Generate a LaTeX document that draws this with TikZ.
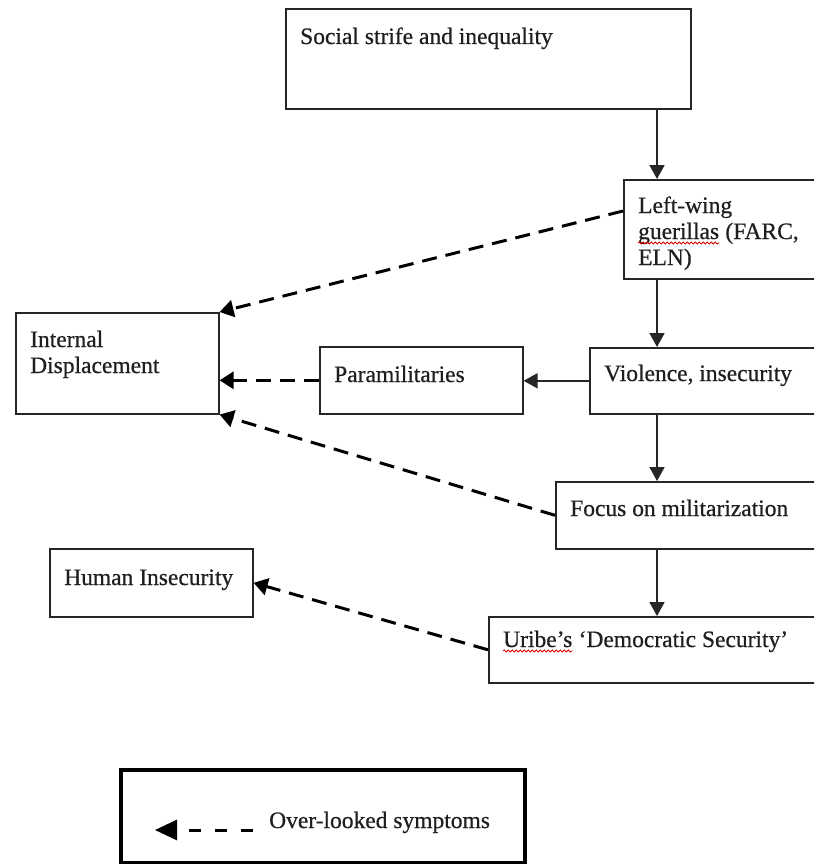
\documentclass[tikz,border=0pt]{standalone}
\usepackage{fontspec}
\setmainfont{Liberation Serif}[FakeBold=0.6]
\usetikzlibrary{arrows.meta,decorations.pathmorphing}
\tikzset{
  box/.style={draw=black!85, line width=1.6pt, rectangle, inner sep=0pt, anchor=north west},
  lbl/.style={anchor=base west, inner sep=0pt, font=\fontsize{23.5}{27}\selectfont, text=black!88},
  arr/.style={draw=black!85, line width=1.8pt, -{Triangle[length=14pt,width=15pt]}},
  darr/.style={draw=black, line width=3pt, dash pattern=on 15pt off 9pt, -{Triangle[length=14pt,width=17pt]}},
  legarr/.style={draw=black, line width=3pt, dash pattern=on 12pt off 14pt, -{Triangle[length=22pt,width=20pt]}},
  legendbox/.style={draw=black, line width=4pt, rectangle, inner sep=0pt, anchor=north west},
  squig/.style={draw=red!85!black, line width=0.8pt, decorate, decoration={snake, segment length=4pt, amplitude=1.1pt}}
}
\begin{document}
\begin{tikzpicture}[x=1pt,y=-1pt]
\useasboundingbox (0,0) rectangle (814,864);
\fill[white] (0,0) rectangle (814,864);
\begin{scope}
\clip (0,0) rectangle (814,864);
% boxes
\node[box, minimum width=405pt, minimum height=100pt] (social) at (285,8) {};
\node[box, minimum width=230pt, minimum height=99pt] (lw) at (623,179) {};
\node[box, minimum width=240pt, minimum height=66pt] (viol) at (589,347) {};
\node[box, minimum width=203pt, minimum height=67pt] (para) at (319,346) {};
\node[box, minimum width=203pt, minimum height=101pt] (int) at (15,312) {};
\node[box, minimum width=280pt, minimum height=67pt] (focus) at (555,481) {};
\node[box, minimum width=340pt, minimum height=66pt] (uribe) at (488,616) {};
\node[box, minimum width=203pt, minimum height=68pt] (hum) at (49,548) {};
\node[legendbox, minimum width=404pt, minimum height=93pt] (legend) at (119,768) {};
% labels
\node[lbl] (socialT) at (300,44) {Social strife and inequality};
\node[lbl] (lwT1) at (638,213) {Left-wing};
\node[lbl] (lwT2) at (638,239) {guerillas};
\node[lbl, anchor=base west] (lwT2b) at (lwT2.base east) {\ (FARC,};
\node[lbl] (lwT3) at (638,265) {ELN)};
\node[lbl] (violT) at (604,381) {Violence, insecurity};
\node[lbl] (paraT) at (334,382) {Paramilitaries};
\node[lbl] (intT1) at (30,347) {Internal};
\node[lbl] (intT2) at (30,373) {Displacement};
\node[lbl] (focusT) at (570,516) {Focus on militarization};
\node[lbl] (uribeT) at (503,647) {Uribe's};
\node[lbl, anchor=base west] (uribeT2) at (uribeT.base east) {\ ‘Democratic Security’};
\node[lbl] (humT) at (64,585) {Human Insecurity};
\node[lbl] (legT) at (269,828) {Over-looked symptoms};
% spell-check squiggles
\draw[squig] ([yshift=-4pt]lwT2.base west) -- ([yshift=-4pt]lwT2.base east);
\draw[squig] ([yshift=-4pt]uribeT.base west) -- ([yshift=-4pt]uribeT.base east);
% spine for vertical arrows
\coordinate (spine) at (657,0);
\draw[arr] (social.south -| spine) -- (lw.north -| spine);
\draw[arr] (lw.south -| spine) -- (viol.north -| spine);
\draw[arr] (viol.south -| spine) -- (focus.north -| spine);
\draw[arr] (focus.south -| spine) -- (uribe.north -| spine);
\draw[arr] (viol.west) -- (viol.west -| para.east);
% dashed arrows
\draw[darr] ([yshift=-32pt]lw.north west) -- (int.north east);
\draw[darr] (para.west) -- (para.west -| int.east);
\draw[darr] (focus.west) -- (int.south east);
\draw[darr] (uribe.west) -- (hum.east);
% legend arrow
\coordinate (lgA) at (253,830);
\coordinate (lgB) at (155,830);
\draw[legarr] (lgA) -- (lgB);
\end{scope}
\end{tikzpicture}
\end{document}
